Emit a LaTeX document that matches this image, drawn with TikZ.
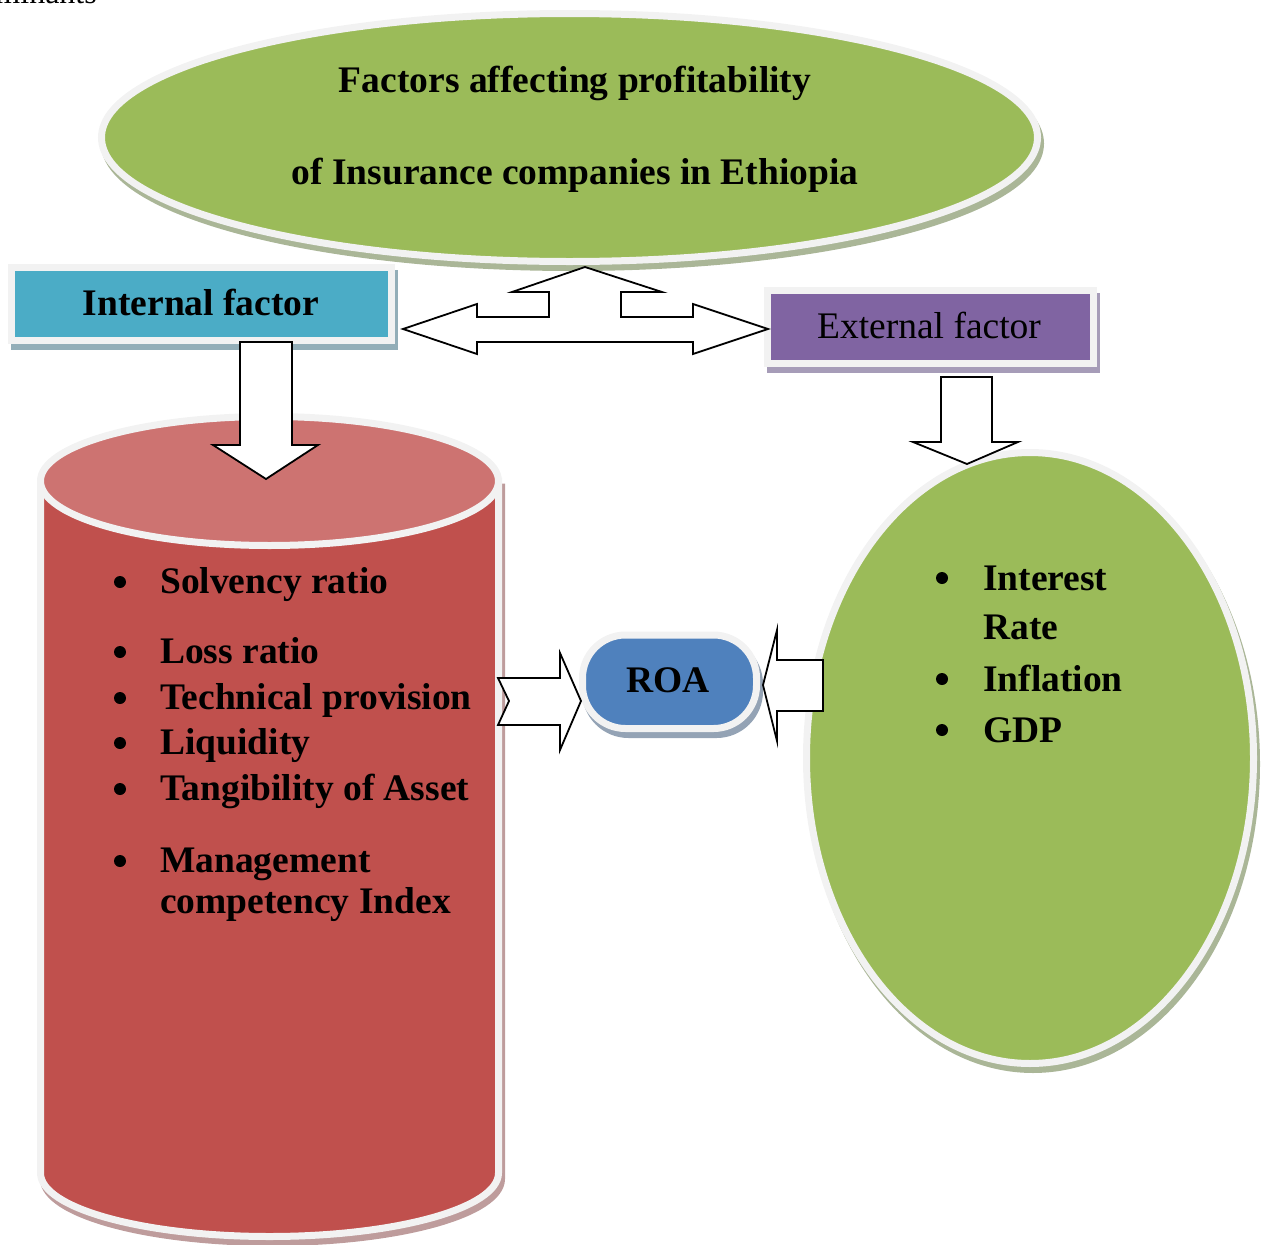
\documentclass[tikz,border=0pt]{standalone}
\usepackage{fontspec}
\setmainfont{Liberation Serif}
\definecolor{leafgreen}{HTML}{9BBB59}
\definecolor{leafshadow}{HTML}{AAB697}
\definecolor{rimgray}{HTML}{F2F2F2}
\definecolor{cylbody}{HTML}{C0504D}
\definecolor{cyltop}{HTML}{CD7371}
\definecolor{cylshadow}{HTML}{BE9C9C}
\definecolor{tealbox}{HTML}{4BACC6}
\definecolor{tealshadow}{HTML}{93AEB8}
\definecolor{violetbox}{HTML}{8064A2}
\definecolor{violetshadow}{HTML}{A69CB8}
\definecolor{roablue}{HTML}{4F81BD}
\definecolor{roashadow}{HTML}{94A3B5}
\begin{document}
\begin{tikzpicture}[x=1pt,y=-1pt,
  rim/.style={draw=rimgray, line width=7pt},
  shade/.style={draw=#1, fill=#1, line width=7pt, shift={(3,6)}},
  blockarrow/.style={draw=black, fill=white, line width=1.8pt, line join=miter},
  lbl/.style={font=\bfseries\fontsize{37.5}{44}\selectfont, inner sep=0pt, anchor=base},
  plainlbl/.style={font=\fontsize{37.5}{44}\selectfont, inner sep=0pt, anchor=base},
  item/.style={font=\bfseries\fontsize{37.5}{44}\selectfont, inner sep=0pt, anchor=base west},
  dot/.style={circle, fill=black, inner sep=0pt, minimum size=12pt}]
\useasboundingbox (0,0) rectangle (1267,1245);

% running text cut by the page edge
\node[font=\fontsize{32}{38}\selectfont, inner sep=0pt, anchor=base east] (runhead) at (97,3) {minants};

% ---- main ellipse ----
\path[shade=leafshadow] (569.5,137.5) ellipse [x radius=468pt, y radius=124pt];
\path[rim, fill=leafgreen] (569.5,137.5) ellipse [x radius=468pt, y radius=124pt];
\node[lbl] (title1) at (575,92) {Factors affecting profitability};
\node[lbl] (title2) at (575,184) {of Insurance companies in Ethiopia};

% ---- internal factor box ----
\path[shade=tealshadow] (11.5,267.5) rectangle (391.5,340);
\path[rim, fill=tealbox] (11.5,267.5) rectangle (391.5,340);
\node[lbl] (internal) at (201,315) {Internal factor};

% ---- external factor box ----
\path[shade=violetshadow] (767,290.5) rectangle (1093.5,363.5);
\path[rim, fill=violetbox] (767,290.5) rectangle (1093.5,363.5);
\node[plainlbl] (external) at (929,338) {External factor};

% ---- cylinder ----
\path[shade=cylshadow] (40.5,481) -- (40.5,1173)
  arc[start angle=180, end angle=360, x radius=229pt, y radius=63.5pt]
  -- (498.5,481) -- cycle;
\path[rim, fill=cylbody] (40.5,481) -- (40.5,1173)
  arc[start angle=180, end angle=360, x radius=229pt, y radius=63.5pt]
  -- (498.5,481) -- cycle;
\path[rim, fill=cyltop] (269.5,481) ellipse [x radius=229pt, y radius=64.5pt];

\foreach \yy/\txt [count=\i] in {593/Solvency ratio, 663/Loss ratio, 709/Technical provision,
    754/Liquidity, 800/Tangibility of Asset, 872/Management} {
  \node[dot] (lb\i) at (120,\yy-11) {};
  \node[item] (li\i) at (160,\yy) {\txt};
}
\node[item] (li7) at (160,913) {competency Index};

% ---- right ellipse ----
\path[shade=leafshadow] (1030,758) ellipse [x radius=223.5pt, y radius=305.5pt];
\path[rim, fill=leafgreen] (1030,758) ellipse [x radius=223.5pt, y radius=305.5pt];
\node[dot] (rb1) at (942,578) {};
\node[item] (ri1) at (983,590) {Interest};
\node[item] (ri1b) at (983,639) {Rate};
\node[dot] (rb2) at (942,679) {};
\node[item] (ri2) at (983,691) {Inflation};
\node[dot] (rb3) at (942,730) {};
\node[item] (ri3) at (983,742) {GDP};

% ---- ROA ----
\path[shade=roashadow, rounded corners=43pt] (582.5,635) rectangle (756.5,728.5);
\path[rim, fill=roablue, rounded corners=43pt] (582.5,635) rectangle (756.5,728.5);
\node[lbl] (roa) at (668,692) {ROA};

% ---- block arrows ----
% three-way arrow between the main ellipse and the two factor boxes
\draw[blockarrow] (403,329) -- (477,304) -- (477,317) -- (549,317) -- (549,292)
  -- (512,292) -- (585,267) -- (662,292) -- (621,292) -- (621,317) -- (693,317)
  -- (693,304) -- (768,329) -- (693,354) -- (693,342) -- (477,342) -- (477,354) -- cycle;
% internal factor down to the cylinder
\draw[blockarrow] (240,342) -- (292,342) -- (292,445) -- (318,445) -- (266,479)
  -- (213,445) -- (240,445) -- cycle;
% external factor down to the right ellipse
\draw[blockarrow] (941,377) -- (992,377) -- (992,442) -- (1018,442) -- (967,464)
  -- (913,442) -- (941,442) -- cycle;
% notched arrow from the cylinder to ROA
\draw[blockarrow] (498,678) -- (560,678) -- (560,653) -- (581,701) -- (560,750)
  -- (560,725) -- (498,725) -- (509,701) -- cycle;
% arrow from the right ellipse to ROA
\draw[blockarrow] (823,660) -- (777,660) -- (777,630) -- (763,685) -- (777,741)
  -- (777,711) -- (823,711) -- cycle;
\end{tikzpicture}
\end{document}
